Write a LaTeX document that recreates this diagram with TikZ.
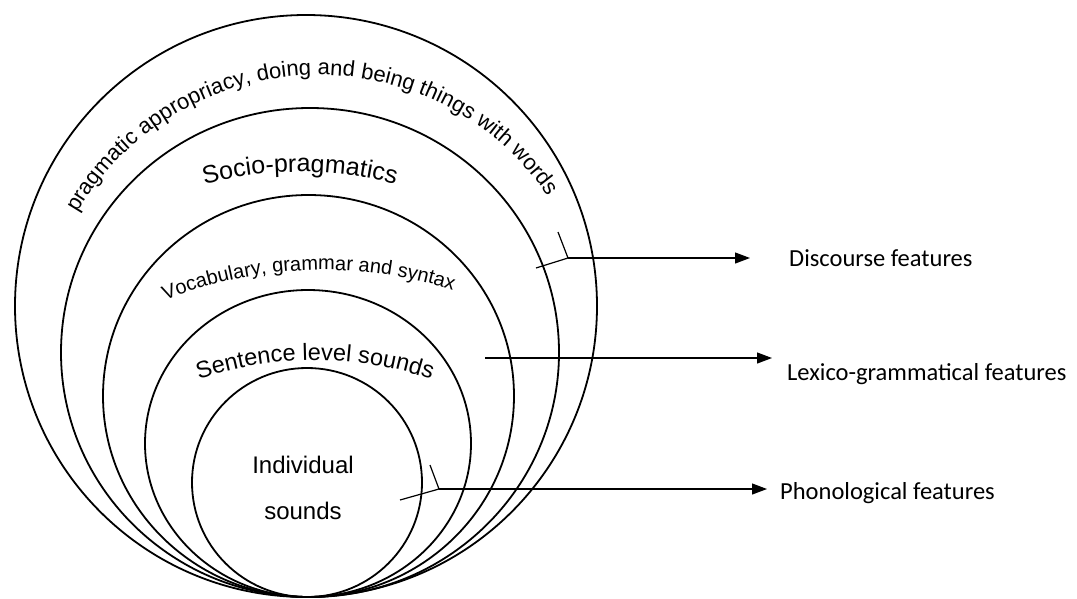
\documentclass[tikz,border=0pt]{standalone}
\usepackage{fontspec}
\setmainfont{Liberation Sans}
\newfontfamily\labelfont{Carlito}
\usetikzlibrary{arrows.meta,decorations.text,shapes.geometric}

\begin{document}
\begin{tikzpicture}[x=1pt,y=-1pt,
  ring/.style={draw,ellipse,line width=1.8pt,inner sep=0pt,outer sep=0pt},
  feat/.style={font=\labelfont\fontsize{24.5}{29}\selectfont,inner sep=0pt,anchor=base west},
  pointer/.style={line width=1.2pt},
  leader/.style={line width=1.2pt,-{Triangle[length=15pt,width=11pt]}},
  arctext/.style={decorate,decoration={text along path,text align=center,text={#1}}}
]
\useasboundingbox (0,0) rectangle (1077,598);

% nested levels, all touching at the bottom
\node[ring,minimum width=582pt,minimum height=582pt] (outer) at (306,306) {};
\node[ring,minimum width=498pt,minimum height=489pt] (socio) at (310,352.5) {};
\node[ring,minimum width=411pt,minimum height=402pt] (lexis) at (308.5,396) {};
\node[ring,minimum width=326pt,minimum height=307pt] (sentence) at (308,443.5) {};
\node[ring,minimum width=230pt,minimum height=229pt] (indiv) at (307,482.5) {};

% curved captions
\path[arctext={|\fontsize{22}{26}\selectfont|pragmatic appropriacy, doing and being things with words}]
  (318,354) ++(-160:279) arc[start angle=-160,end angle=-24,radius=279];
\path[arctext={|\fontsize{25}{30}\selectfont|Socio-pragmatics}]
  (300,554) ++(-115:382) arc[start angle=-115,end angle=-65,radius=382];
\path[arctext={|\fontsize{20}{24}\selectfont|Vocabulary, grammar and syntax}]
  (323,697) ++(-122:427) arc[start angle=-122,end angle=-62,radius=427];
\path[arctext={|\fontsize{23.5}{28}\selectfont|Sentence level sounds}]
  (315,717) ++(-115:357) arc[start angle=-115,end angle=-65,radius=357];

\node[font=\fontsize{24}{28}\selectfont,inner sep=0pt] (ind1) at (303,465) {Individual};
\node[font=\fontsize{24}{28}\selectfont,inner sep=0pt] (ind2) at (303,511) {sounds};

% feature labels
\node[feat] (disc) at (789,266) {Discourse features};
\node[feat] (lexi) at (787,380) {Lexico-grammatical features};
\node[feat] (phon) at (780,499) {Phonological features};

% connectors
\coordinate (dj) at (568,258);
\coordinate (dup) at (558,232);
\coordinate (ddn) at (536,268);
\coordinate (dtip) at (750,258);
\draw[pointer] (dup) -- (dj) -- (ddn);
\draw[leader] (dj) -- (dtip);

\coordinate (ls) at (485,358);
\coordinate (ltip) at (772,358);
\draw[leader] (ls) -- (ltip);

\coordinate (pj) at (439,489);
\coordinate (pup) at (430,465);
\coordinate (pdn) at (400,500);
\coordinate (ptip) at (767,489);
\draw[pointer] (pup) -- (pj) -- (pdn);
\draw[leader] (pj) -- (ptip);
\end{tikzpicture}
\end{document}
